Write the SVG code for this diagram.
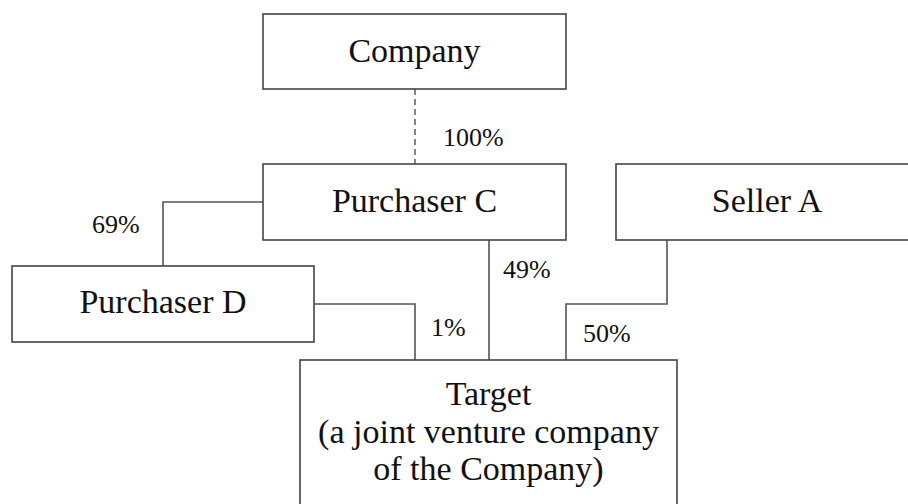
<svg xmlns="http://www.w3.org/2000/svg" width="908" height="504" viewBox="0 0 908 504">
<style>
.box{fill:#fff;stroke:#444;stroke-width:1.6}
.t{font-family:"Liberation Serif","Times New Roman",serif;font-size:34px;fill:#111;text-anchor:middle}
.p{font-family:"Liberation Serif","Times New Roman",serif;font-size:26px;fill:#111}
.c{fill:none;stroke:#555;stroke-width:1.6}
.d{fill:none;stroke:#666;stroke-width:1.6;stroke-dasharray:6,4}
</style>
<rect width="908" height="504" fill="#fff"/>
<g id="connectors">
<line class="d" x1="415" y1="89" x2="415" y2="164"/>
<polyline class="c" points="263,202 163,202 163,266"/>
<polyline class="c" points="314,304 415,304 415,360"/>
<line class="c" x1="489" y1="240" x2="489" y2="360"/>
<polyline class="c" points="667,240 667,304 566,304 566,360"/>
<text class="p" x="443" y="146">100%</text>
<text class="p" x="92" y="233">69%</text>
<text class="p" x="503" y="278">49%</text>
<text class="p" x="431" y="336">1%</text>
<text class="p" x="583" y="342">50%</text>
</g>
<g id="company">
<rect class="box" x="263" y="14" width="303" height="75"/>
<text class="t" x="414.5" y="62">Company</text>
</g>
<g id="purchaser-c">
<rect class="box" x="263" y="164" width="303" height="76"/>
<text class="t" x="414.5" y="212">Purchaser C</text>
</g>
<g id="seller-a">
<rect class="box" x="616" y="164" width="303" height="76"/>
<text class="t" x="767" y="212">Seller A</text>
</g>
<g id="purchaser-d">
<rect class="box" x="12" y="266" width="302" height="76"/>
<text class="t" x="163" y="313">Purchaser D</text>
</g>
<g id="target">
<rect class="box" x="300" y="360" width="377" height="160"/>
<text class="t" x="488.5" y="405">Target</text>
<text class="t" x="488.5" y="443">(a joint venture company</text>
<text class="t" x="488.5" y="480">of the Company)</text>
</g>
</svg>
